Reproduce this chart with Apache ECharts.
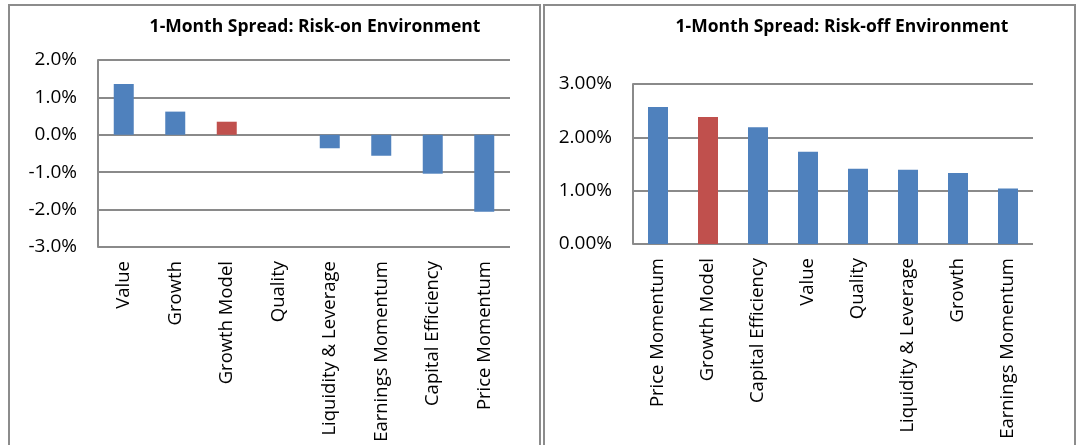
<!DOCTYPE html>
<html>
<head>
<meta charset="utf-8">
<script src="https://cdn.jsdelivr.net/npm/echarts@6/dist/echarts.min.js"></script>
<style>
  html, body { margin: 0; padding: 0; background: #fff; }
  #chart { width: 1078px; height: 445px; }
</style>
</head>
<body>
<div id="chart"></div>
<script>
// Risk-on panel: 1-month factor spreads (%)
const riskOnCategories = ['Value', 'Growth', 'Growth Model', 'Quality', 'Liquidity & Leverage', 'Earnings Momentum', 'Capital Efficiency', 'Price Momentum'];
const riskOnValues = [1.36, 0.62, 0.35, 0, -0.36, -0.56, -1.04, -2.06];

// Risk-off panel: 1-month factor spreads (%)
const riskOffCategories = ['Price Momentum', 'Growth Model', 'Capital Efficiency', 'Value', 'Quality', 'Liquidity & Leverage', 'Growth', 'Earnings Momentum'];
const riskOffValues = [2.57, 2.38, 2.19, 1.73, 1.41, 1.39, 1.33, 1.04];

const highlight = 'Growth Model';
const BLUE = '#4f81bd';
const RED = '#c0504d';
const GRID = '#8a8a8a';
const FONT = '"Open Sans", "Noto Sans", sans-serif';

const chart = echarts.init(document.getElementById('chart'), null, { renderer: 'canvas' });

function barData(cats, vals) {
  return vals.map((v, i) => ({
    value: v,
    itemStyle: { color: cats[i] === highlight ? RED : BLUE }
  }));
}

function xAxis(idx, cats) {
  return {
    type: 'category', gridIndex: idx, data: cats,
    axisLine: { show: false }, axisTick: { show: false },
    axisLabel: { rotate: 90, margin: 14, fontSize: 18.5, color: '#000', fontFamily: FONT, interval: 0 }
  };
}

function yAxis(idx, min, max, digits) {
  return {
    type: 'value', gridIndex: idx, min: min, max: max, interval: 1,
    axisLine: { show: true, lineStyle: { color: GRID, width: 2 } },
    axisTick: { show: false },
    splitLine: { show: true, lineStyle: { color: GRID, width: 2 } },
    axisLabel: { margin: 21, fontSize: 19, color: '#000', fontFamily: FONT,
      formatter: v => v.toFixed(digits) + '%' }
  };
}

chart.setOption({
  animation: false,
  title: [
    { text: '1-Month Spread: Risk-on Environment', left: 310, top: 13, textAlign: 'center',
      textStyle: { fontSize: 17.5, fontWeight: 'bold', color: '#000', fontFamily: FONT } },
    { text: '1-Month Spread: Risk-off Environment', left: 837, top: 13, textAlign: 'center',
      textStyle: { fontSize: 17.5, fontWeight: 'bold', color: '#000', fontFamily: FONT } }
  ],
  grid: [
    { left: 98, top: 60, width: 412, height: 187 },
    { left: 633, top: 84, width: 400, height: 160 }
  ],
  xAxis: [xAxis(0, riskOnCategories), xAxis(1, riskOffCategories)],
  yAxis: [yAxis(0, -3, 2, 1), yAxis(1, 0, 3, 2)],
  series: [
    { type: 'bar', xAxisIndex: 0, yAxisIndex: 0, barWidth: 20, data: barData(riskOnCategories, riskOnValues) },
    { type: 'bar', xAxisIndex: 1, yAxisIndex: 1, barWidth: 20, data: barData(riskOffCategories, riskOffValues) }
  ],
  graphic: [
    { type: 'rect', shape: { x: 9, y: 5, width: 531, height: 460 }, style: { fill: 'none', stroke: '#8c8c8c', lineWidth: 2 }, silent: true },
    { type: 'rect', shape: { x: 544, y: 5, width: 531, height: 460 }, style: { fill: 'none', stroke: '#8c8c8c', lineWidth: 2 }, silent: true }
  ]
});
</script>
</body>
</html>
